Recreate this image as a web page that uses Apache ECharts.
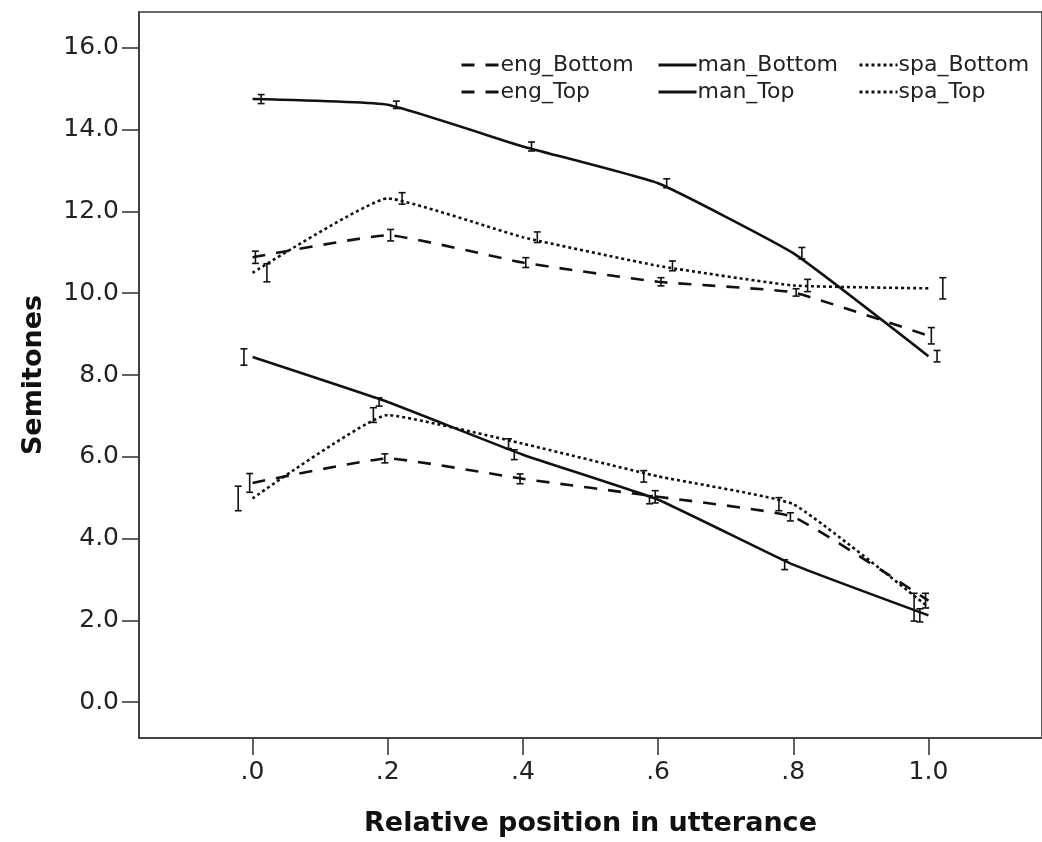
<!DOCTYPE html>
<html>
<head>
<meta charset="utf-8">
<title>Semitones by relative position</title>
<script src="https://cdn.jsdelivr.net/npm/echarts@6/dist/echarts.min.js"></script>
<style>
  html, body { margin: 0; padding: 0; background: #fff; }
  #main { width: 1042px; height: 842px; }
</style>
</head>
<body>
<div id="main"></div>
<script>
// positions along the utterance
var xs = [0, 0.2, 0.4, 0.6, 0.8, 1.0];
var xTickLabels = ['.0', '.2', '.4', '.6', '.8', '1.0'];
var yTicks = [0, 2, 4, 6, 8, 10, 12, 14, 16];
var yTickLabels = ['0.0', '2.0', '4.0', '6.0', '8.0', '10.0', '12.0', '14.0', '16.0'];

// means (semitones) and error half-widths
var engBottom = [5.36, 5.96, 5.46, 5.02, 4.53, 2.48];
var engBottomErr = [0.23, 0.11, 0.12, 0.15, 0.10, 0.18];
var engTop = [10.88, 11.42, 10.75, 10.28, 10.02, 8.96];
var engTopErr = [0.15, 0.14, 0.12, 0.10, 0.09, 0.20];
var manBottom = [8.44, 7.34, 6.05, 4.95, 3.36, 2.12];
var manBottomErr = [0.20, 0.10, 0.12, 0.10, 0.12, 0.16];
var manTop = [14.75, 14.61, 13.59, 12.69, 10.98, 8.46];
var manTopErr = [0.11, 0.09, 0.11, 0.11, 0.14, 0.14];
var spaBottom = [4.98, 7.02, 6.32, 5.52, 4.84, 2.32];
var spaBottomErr = [0.30, 0.18, 0.12, 0.14, 0.16, 0.34];
var spaTop = [10.50, 12.32, 11.37, 10.67, 10.19, 10.12];
var spaTopErr = [0.22, 0.14, 0.13, 0.12, 0.15, 0.26];

var FONT = 'DejaVu Sans';
var AXIS_COLOR = '#3a3a3a';

// one entry per group; dodge = slot used to spread the error bars
var groups = [
  { name: 'eng_Bottom', mean: engBottom, err: engBottomErr, dash: [13, 11], dodge: 2 },
  { name: 'eng_Top', mean: engTop, err: engTopErr, dash: [13, 11], dodge: 3 },
  { name: 'man_Bottom', mean: manBottom, err: manBottomErr, dash: 'solid', dodge: 1 },
  { name: 'man_Top', mean: manTop, err: manTopErr, dash: 'solid', dodge: 4 },
  { name: 'spa_Bottom', mean: spaBottom, err: spaBottomErr, dash: [3, 3], dodge: 0 },
  { name: 'spa_Top', mean: spaTop, err: spaTopErr, dash: [3, 3], dodge: 5 }
];
var dodgeStep = 0.0085;

function errorBarItem(params, api) {
  var x = api.value(0);
  var lo = api.coord([x, api.value(1)]);
  var hi = api.coord([x, api.value(2)]);
  var cap = 3.5;
  var style = { stroke: '#111', lineWidth: 1.6 };
  return {
    type: 'group',
    children: [
      { type: 'line', shape: { x1: lo[0], y1: lo[1], x2: hi[0], y2: hi[1] }, style: style },
      { type: 'line', shape: { x1: lo[0] - cap, y1: lo[1], x2: lo[0] + cap, y2: lo[1] }, style: style },
      { type: 'line', shape: { x1: hi[0] - cap, y1: hi[1], x2: hi[0] + cap, y2: hi[1] }, style: style }
    ]
  };
}

var series = [];
groups.forEach(function (g) {
  series.push({
    name: g.name,
    type: 'line',
    symbol: 'none',
    smooth: 0.12,
    lineStyle: { color: '#111', width: 2.6, type: g.dash },
    itemStyle: { color: '#111' },
    z: 3,
    data: xs.map(function (x, i) { return [x, g.mean[i]]; })
  });
  var off = (g.dodge - 2.5) * dodgeStep;
  series.push({
    name: g.name + ' err',
    type: 'custom',
    renderItem: errorBarItem,
    z: 4,
    silent: true,
    data: xs.map(function (x, i) { return [x + off, g.mean[i] - g.err[i], g.mean[i] + g.err[i]]; })
  });
});

function legendCol(names, left) {
  return {
    orient: 'vertical',
    left: left,
    top: 49,
    itemWidth: 38,
    itemHeight: 14,
    itemGap: 5,
    data: names,
    selectedMode: false,
    itemStyle: { opacity: 0 },
    lineStyle: { width: 3 },
    textStyle: { fontFamily: FONT, fontSize: 22, color: '#222', padding: [0, 0, 0, -4] }
  };
}

var option = {
  backgroundColor: '#fff',
  animation: false,
  grid: {
    left: 139, top: 12, right: -13, bottom: 102,
    show: true, borderColor: AXIS_COLOR, borderWidth: 1.6
  },
  legend: [
    legendCol(['eng_Bottom', 'eng_Top'], 455),
    legendCol(['man_Bottom', 'man_Top'], 652),
    legendCol(['spa_Bottom', 'spa_Top'], 853)
  ],
  xAxis: {
    type: 'value',
    min: -0.168,
    max: 1.168,
    name: 'Relative position in utterance',
    nameLocation: 'middle',
    nameGap: 72,
    nameTextStyle: { fontFamily: FONT, fontSize: 27, fontWeight: 'bold', color: '#111' },
    axisLine: { show: true, onZero: false, lineStyle: { color: AXIS_COLOR, width: 1.6 } },
    axisTick: { show: true, length: 17, customValues: xs, lineStyle: { color: AXIS_COLOR, width: 1.6 } },
    axisLabel: {
      customValues: xs,
      margin: 22,
      fontFamily: FONT, fontSize: 25, color: '#222',
      formatter: function (v) {
        var i = xs.findIndex(function (x) { return Math.abs(x - v) < 1e-6; });
        return i >= 0 ? xTickLabels[i] : '';
      }
    },
    splitLine: { show: false }
  },
  yAxis: {
    type: 'value',
    min: -0.88,
    max: 16.88,
    name: 'Semitones',
    nameLocation: 'middle',
    nameGap: 92,
    nameTextStyle: { fontFamily: FONT, fontSize: 27, fontWeight: 'bold', color: '#111' },
    axisLine: { show: true, onZero: false, lineStyle: { color: AXIS_COLOR, width: 1.6 } },
    axisTick: { show: true, length: 17, customValues: yTicks, lineStyle: { color: AXIS_COLOR, width: 1.6 } },
    axisLabel: {
      customValues: yTicks,
      margin: 20,
      fontFamily: FONT, fontSize: 25, color: '#222',
      formatter: function (v) {
        var i = yTicks.indexOf(Math.round(v));
        return i >= 0 ? yTickLabels[i] : '';
      }
    },
    splitLine: { show: false }
  },
  series: series
};

var chart = echarts.init(document.getElementById('main'), null, { renderer: 'canvas' });
chart.setOption(option);
</script>
</body>
</html>
